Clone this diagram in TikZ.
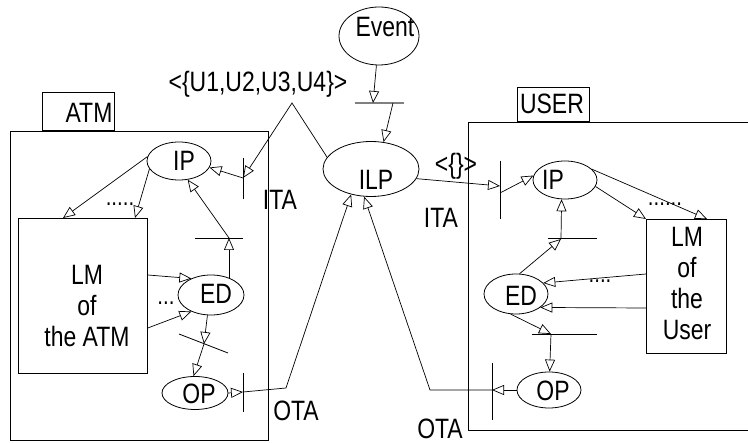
\documentclass[tikz,border=0pt]{standalone}
\usepackage{fontspec}
\setmainfont{Liberation Sans}[FakeStretch=0.82]
\usetikzlibrary{arrows.meta,shapes.geometric,calc}

\begin{document}
\begin{tikzpicture}[x=1pt,y=-1pt,
  every node/.style={inner sep=0pt, font=\fontsize{28}{31}\selectfont},
  place/.style={draw, ellipse, line width=0.8pt},
  frame/.style={draw, rectangle, line width=0.8pt},
  barline/.style={line width=0.8pt},
  evbar/.style={line width=1.6pt, draw=black!50},
  arc/.style={line width=0.7pt, -{Triangle[open,length=12pt,width=10pt]}},
  dots/.style={font=\fontsize{25}{25}\selectfont}]
\useasboundingbox (0,0) rectangle (748,443);

% ---------- frames and tabs ----------
\node[frame, minimum width=258pt, minimum height=309pt, anchor=north west] (atmbox) at (10,131) {};
\node[frame, minimum width=72pt, minimum height=38pt, anchor=south west] (atmtab) at (42,131) {};
\node (atmtxt) at (89,113) {ATM};
\node[frame, minimum width=300pt, minimum height=308pt, anchor=north west] (userbox) at (468,122) {};
\node[frame, minimum width=72pt, minimum height=34pt, anchor=south west] (usertab) at (517,122) {};
\node (usertxt) at (552,104) {USER};

% ---------- places ----------
\node[place, minimum width=80pt, minimum height=58pt] (event) at (379,36) {};
\node (eventtxt) at (385,27) {Event};
\node[place, minimum width=96pt, minimum height=55pt] (ilp) at (371,169) {};
\node (ilptxt) at (376,180) {ILP};

\node[place, minimum width=64pt, minimum height=38pt] (ipA) at (179,161) {};
\node (ipAtxt) at (184,161) {IP};
\node[place, minimum width=66pt, minimum height=40pt] (edA) at (211,295) {};
\node (edAtxt) at (216,294) {ED};
\node[place, minimum width=66pt, minimum height=33pt] (opA) at (195,393) {};
\node (opAtxt) at (199,394) {OP};

\node[place, minimum width=64pt, minimum height=38pt] (ipU) at (565,180) {};
\node (ipUtxt) at (553,180) {IP};
\node[place, minimum width=64pt, minimum height=40pt] (edU) at (516,294) {};
\node (edUtxt) at (521,296) {ED};
\node[place, minimum width=64pt, minimum height=36pt] (opU) at (549,390) {};
\node (opUtxt) at (553,391) {OP};

% ---------- local models ----------
\node[frame, minimum width=129pt, minimum height=155pt, anchor=north west] (lmA) at (18,218) {};
\node[align=center] (lmAtxt) at (87,306) {LM\\of\\the ATM};
\node[frame, minimum width=80pt, minimum height=134pt, anchor=north west] (lmU) at (646,219) {};
\node[align=center] (lmUtxt) at (687,284) {LM\\of\\the\\User};

% ---------- transitions (bars) ----------
\draw[evbar] (355,103) -- (404,103);
\draw[barline] (243,158) -- (243,199);   % ITA of the ATM
\draw[barline] (195,238) -- (243,238);
\draw[barline] (179,334) -- (228,353);
\draw[barline] (243,373) -- (243,412);   % OTA of the ATM
\draw[barline] (500,161) -- (500,219);   % ITA of the user
\draw[barline] (548,238) -- (597,238);
\draw[barline] (532,334) -- (597,334);
\draw[barline] (492,363) -- (492,420);   % OTA of the user

% connection points on the bars
\coordinate (evIn)  at (373,103);
\coordinate (evOut) at (393,103);
\coordinate (itaA)  at (243,178);
\coordinate (b1A)   at (229,238);
\coordinate (b2A)   at (204,344);
\coordinate (otaA)  at (243,392);
\coordinate (itaUin)  at (500,186);
\coordinate (itaUout) at (500,193);
\coordinate (b1U)   at (561,239);
\coordinate (b2U)   at (551,334);
\coordinate (otaU)  at (492,390);
\coordinate (apex)  at (292,103);
\coordinate (kneeA) at (286,388);
\coordinate (kneeU) at (430,390);

% ---------- event ----------
\draw[arc] (event.-95) -- (evIn);
\draw[arc] (evOut) -- (ilp.65);

% ---------- ATM side ----------
\draw[arc] (ilp.165) -- (apex) -- (itaA);
\draw[arc] (itaA) -- (ipA.-12);
\draw[arc] (ipA.172) -- ($(lmA.north west)+(45,0)$);
\draw[arc] (ipA.195) -- ($(lmA.north west)+(117,0)$);
\draw[arc] (b1A |- edA.45) -- (b1A);
\draw[arc] (b1A) -- (ipA.-65);
\draw[arc] ($(lmA.north east)+(0,57)$) -- (edA.140);
\draw[arc] ($(lmA.north east)+(0,110)$) -- (edA.220);
\draw[arc] (edA.-100) -- (b2A);
\draw[arc] (b2A) -- (opA.95);
\draw[arc] (opA.east) -- (otaA);
\draw[arc] (otaA) -- (kneeA) -- (ilp.-128);

% ---------- user side ----------
\draw[arc] (ilp.-12) -- (itaUin);
\draw[arc] (itaUout) -- (ipU.172);
\draw[arc] (ipU.-12) -- (lmU.north west);
\draw[arc] (ipU.22) -- ($(lmU.north west)+(61,0)$);
\draw[arc] (edU.80) -- (b1U);
\draw[arc] (b1U) -- (ipU.-100);
\draw[arc] ($(lmU.north west)+(0,55)$) -- (edU.22);
\draw[arc] ($(lmU.north west)+(0,89)$) -- (edU.-29);
\draw[arc] (edU.-105) -- (b2U);
\draw[arc] (b2U) -- (opU.88);
\draw[arc] (opU.west) -- (otaU);
\draw[arc] (otaU) -- (kneeU) -- (ilp.-104);

% ---------- labels ----------
\node (tokA) at (258,84) {<\{U1,U2,U3,U4\}>};
\node (tokU) at (456,166) {<\{\}>};
\node (itaAl) at (280,200) {ITA};
\node (itaUl) at (441,218) {ITA};
\node (otaAl) at (296,411) {OTA};
\node (otaUl) at (440,429) {OTA};
\node[dots] (dotsA1) at (120,204) {.....};
\node[dots] (dotsA2) at (166,303) {...};
\node[dots] (dotsU1) at (665,204) {......};
\node[dots] (dotsU2) at (600,281) {....};
\end{tikzpicture}
\end{document}
